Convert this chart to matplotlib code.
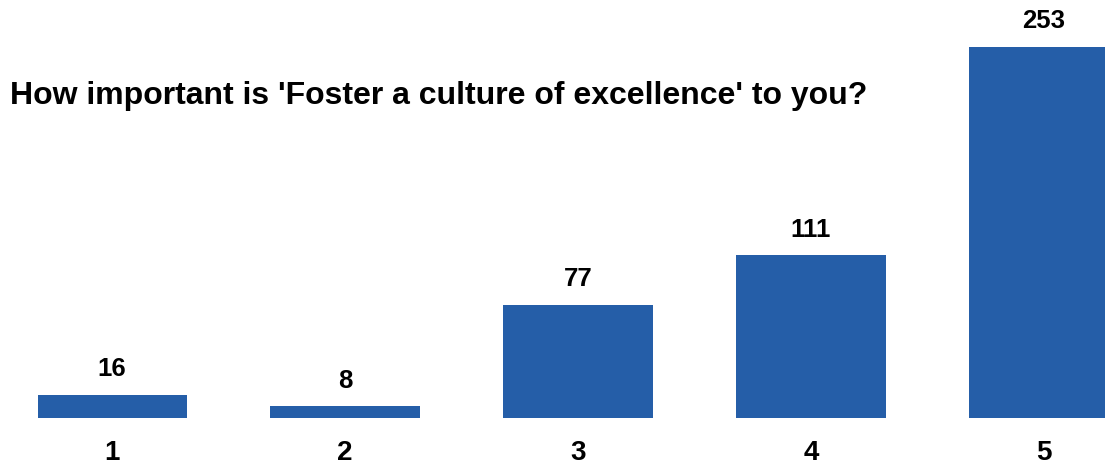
import numpy as np
import matplotlib.pyplot as plt

plt.rcParams['font.family'] = ['Liberation Sans', 'DejaVu Sans']

ratings = ['1', '2', '3', '4', '5']
counts = [16, 8, 77, 111, 253]
title = "How important is 'Foster a culture of excellence' to you?"

fig = plt.figure(figsize=(11.05, 4.66), dpi=100)
ax = fig.add_axes([0.0, 0.103, 1.0, 0.796])

x = np.arange(1, len(ratings) + 1)
ax.bar(x, counts, width=0.64, color='#255EA8')

for xi, c in zip(x, counts):
    ax.annotate(str(c), (xi, c), xytext=(0, 13.5), textcoords='offset points',
                ha='center', va='baseline', fontsize=18.5, fontweight='bold')

ax.set_xlim(0.519, 5.262)
ax.set_ylim(0, 253)
ax.set_xticks(x)
ax.set_xticklabels(ratings, fontsize=20, fontweight='bold')
ax.tick_params(axis='x', length=0, pad=16)
ax.set_yticks([])
for s in ax.spines.values():
    s.set_visible(False)

fig.text(10 / 1105, 1 - 104 / 466, title, fontsize=23, fontweight='bold',
         ha='left', va='baseline')

fig.savefig('out.png', dpi=100)
